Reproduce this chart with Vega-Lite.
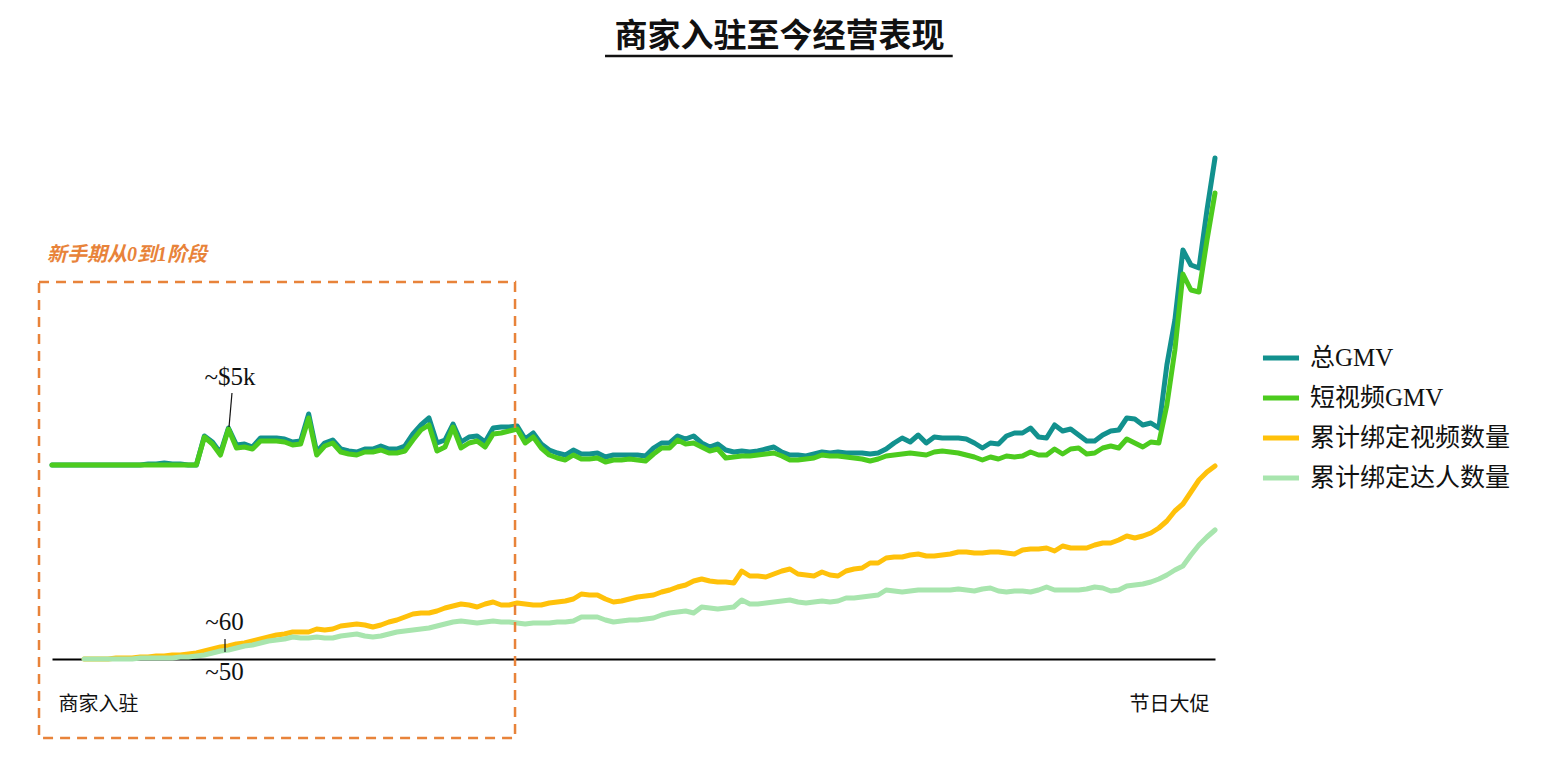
{
  "$schema": "https://vega.github.io/schema/vega-lite/v6.json",
  "width": 1163,
  "height": 519,
  "autosize": {"type": "none"},
  "padding": {"left": 52, "top": 140, "right": 347, "bottom": 101},
  "background": "white",
  "title": {"text": "商家入驻至今经营表现", "fontSize": 33, "fontWeight": "bold", "font": "Noto Sans CJK SC", "color": "#111111", "anchor": "middle", "frame": "group", "dx": 146, "offset": 1},
  "config": {"view": {"stroke": null}, "axis": {"grid": false, "ticks": false}},
  "datasets": {
    "series": [
      {"day":0,"总GMV":194,"短视频GMV":194},
      {"day":1,"总GMV":194,"短视频GMV":194},
      {"day":2,"总GMV":194,"短视频GMV":194},
      {"day":3,"总GMV":194,"短视频GMV":194},
      {"day":4,"总GMV":194,"短视频GMV":194,"累计绑定视频数量":0,"累计绑定达人数量":0},
      {"day":5,"总GMV":194,"短视频GMV":194,"累计绑定视频数量":0,"累计绑定达人数量":0},
      {"day":6,"总GMV":194,"短视频GMV":194,"累计绑定视频数量":0,"累计绑定达人数量":0},
      {"day":7,"总GMV":194,"短视频GMV":194,"累计绑定视频数量":0,"累计绑定达人数量":0},
      {"day":8,"总GMV":194,"短视频GMV":194,"累计绑定视频数量":1,"累计绑定达人数量":0},
      {"day":9,"总GMV":194,"短视频GMV":194,"累计绑定视频数量":1,"累计绑定达人数量":0},
      {"day":10,"总GMV":194,"短视频GMV":194,"累计绑定视频数量":1,"累计绑定达人数量":0},
      {"day":11,"总GMV":194,"短视频GMV":194,"累计绑定视频数量":2,"累计绑定达人数量":1},
      {"day":12,"总GMV":195,"短视频GMV":194,"累计绑定视频数量":2,"累计绑定达人数量":1},
      {"day":13,"总GMV":195,"短视频GMV":194,"累计绑定视频数量":3,"累计绑定达人数量":1},
      {"day":14,"总GMV":196,"短视频GMV":194,"累计绑定视频数量":3,"累计绑定达人数量":1},
      {"day":15,"总GMV":195,"短视频GMV":194,"累计绑定视频数量":4,"累计绑定达人数量":1},
      {"day":16,"总GMV":195,"短视频GMV":194,"累计绑定视频数量":4,"累计绑定达人数量":2},
      {"day":17,"总GMV":194,"短视频GMV":194,"累计绑定视频数量":5,"累计绑定达人数量":2},
      {"day":18,"总GMV":194,"短视频GMV":194,"累计绑定视频数量":6,"累计绑定达人数量":3},
      {"day":19,"总GMV":223,"短视频GMV":222,"累计绑定视频数量":8,"累计绑定达人数量":4},
      {"day":20,"总GMV":217,"短视频GMV":215,"累计绑定视频数量":10,"累计绑定达人数量":6},
      {"day":21,"总GMV":206,"短视频GMV":204,"累计绑定视频数量":12,"累计绑定达人数量":8},
      {"day":22,"总GMV":231,"短视频GMV":230,"累计绑定视频数量":13,"累计绑定达人数量":9},
      {"day":23,"总GMV":214,"短视频GMV":211,"累计绑定视频数量":15,"累计绑定达人数量":11},
      {"day":24,"总GMV":215,"短视频GMV":212,"累计绑定视频数量":16,"累计绑定达人数量":13},
      {"day":25,"总GMV":212,"短视频GMV":210,"累计绑定视频数量":18,"累计绑定达人数量":14},
      {"day":26,"总GMV":221,"短视频GMV":218,"累计绑定视频数量":20,"累计绑定达人数量":16},
      {"day":27,"总GMV":221,"短视频GMV":218,"累计绑定视频数量":22,"累计绑定达人数量":18},
      {"day":28,"总GMV":221,"短视频GMV":218,"累计绑定视频数量":24,"累计绑定达人数量":19},
      {"day":29,"总GMV":220,"短视频GMV":217,"累计绑定视频数量":25,"累计绑定达人数量":20},
      {"day":30,"总GMV":217,"短视频GMV":214,"累计绑定视频数量":27,"累计绑定达人数量":22},
      {"day":31,"总GMV":218,"短视频GMV":215,"累计绑定视频数量":27,"累计绑定达人数量":21},
      {"day":32,"总GMV":245,"短视频GMV":241,"累计绑定视频数量":27,"累计绑定达人数量":21},
      {"day":33,"总GMV":207,"短视频GMV":204,"累计绑定视频数量":30,"累计绑定达人数量":22},
      {"day":34,"总GMV":216,"短视频GMV":213,"累计绑定视频数量":29,"累计绑定达人数量":21},
      {"day":35,"总GMV":219,"短视频GMV":216,"累计绑定视频数量":30,"累计绑定达人数量":21},
      {"day":36,"总GMV":210,"短视频GMV":207,"累计绑定视频数量":33,"累计绑定达人数量":23},
      {"day":37,"总GMV":208,"短视频GMV":205,"累计绑定视频数量":34,"累计绑定达人数量":24},
      {"day":38,"总GMV":207,"短视频GMV":204,"累计绑定视频数量":35,"累计绑定达人数量":25},
      {"day":39,"总GMV":210,"短视频GMV":207,"累计绑定视频数量":34,"累计绑定达人数量":23},
      {"day":40,"总GMV":210,"短视频GMV":207,"累计绑定视频数量":32,"累计绑定达人数量":22},
      {"day":41,"总GMV":213,"短视频GMV":209,"累计绑定视频数量":34,"累计绑定达人数量":23},
      {"day":42,"总GMV":210,"短视频GMV":206,"累计绑定视频数量":37,"累计绑定达人数量":25},
      {"day":43,"总GMV":210,"短视频GMV":206,"累计绑定视频数量":39,"累计绑定达人数量":27},
      {"day":44,"总GMV":213,"短视频GMV":208,"累计绑定视频数量":42,"累计绑定达人数量":28},
      {"day":45,"总GMV":225,"短视频GMV":219,"累计绑定视频数量":45,"累计绑定达人数量":29},
      {"day":46,"总GMV":234,"短视频GMV":229,"累计绑定视频数量":46,"累计绑定达人数量":30},
      {"day":47,"总GMV":241,"短视频GMV":234,"累计绑定视频数量":46,"累计绑定达人数量":31},
      {"day":48,"总GMV":216,"短视频GMV":208,"累计绑定视频数量":48,"累计绑定达人数量":33},
      {"day":49,"总GMV":219,"短视频GMV":212,"累计绑定视频数量":51,"累计绑定达人数量":35},
      {"day":50,"总GMV":235,"短视频GMV":232,"累计绑定视频数量":53,"累计绑定达人数量":37},
      {"day":51,"总GMV":217,"短视频GMV":211,"累计绑定视频数量":55,"累计绑定达人数量":38},
      {"day":52,"总GMV":222,"短视频GMV":216,"累计绑定视频数量":54,"累计绑定达人数量":37},
      {"day":53,"总GMV":223,"短视频GMV":218,"累计绑定视频数量":52,"累计绑定达人数量":36},
      {"day":54,"总GMV":217,"短视频GMV":212,"累计绑定视频数量":55,"累计绑定达人数量":37},
      {"day":55,"总GMV":231,"短视频GMV":225,"累计绑定视频数量":57,"累计绑定达人数量":38},
      {"day":56,"总GMV":232,"短视频GMV":226,"累计绑定视频数量":54,"累计绑定达人数量":37},
      {"day":57,"总GMV":232,"短视频GMV":228,"累计绑定视频数量":54,"累计绑定达人数量":37},
      {"day":58,"总GMV":233,"短视频GMV":230,"累计绑定视频数量":56,"累计绑定达人数量":36},
      {"day":59,"总GMV":220,"短视频GMV":216,"累计绑定视频数量":55,"累计绑定达人数量":35},
      {"day":60,"总GMV":226,"短视频GMV":222,"累计绑定视频数量":54,"累计绑定达人数量":36},
      {"day":61,"总GMV":215,"短视频GMV":211,"累计绑定视频数量":54,"累计绑定达人数量":36},
      {"day":62,"总GMV":209,"短视频GMV":204,"累计绑定视频数量":56,"累计绑定达人数量":36},
      {"day":63,"总GMV":206,"短视频GMV":201,"累计绑定视频数量":57,"累计绑定达人数量":37},
      {"day":64,"总GMV":204,"短视频GMV":199,"累计绑定视频数量":58,"累计绑定达人数量":37},
      {"day":65,"总GMV":209,"短视频GMV":204,"累计绑定视频数量":60,"累计绑定达人数量":38},
      {"day":66,"总GMV":205,"短视频GMV":200,"累计绑定视频数量":65,"累计绑定达人数量":42},
      {"day":67,"总GMV":205,"短视频GMV":200,"累计绑定视频数量":64,"累计绑定达人数量":42},
      {"day":68,"总GMV":206,"短视频GMV":201,"累计绑定视频数量":64,"累计绑定达人数量":42},
      {"day":69,"总GMV":202,"短视频GMV":197,"累计绑定视频数量":60,"累计绑定达人数量":39},
      {"day":70,"总GMV":204,"短视频GMV":199,"累计绑定视频数量":57,"累计绑定达人数量":37},
      {"day":71,"总GMV":204,"短视频GMV":199,"累计绑定视频数量":58,"累计绑定达人数量":38},
      {"day":72,"总GMV":204,"短视频GMV":200,"累计绑定视频数量":60,"累计绑定达人数量":39},
      {"day":73,"总GMV":204,"短视频GMV":199,"累计绑定视频数量":62,"累计绑定达人数量":39},
      {"day":74,"总GMV":203,"短视频GMV":198,"累计绑定视频数量":63,"累计绑定达人数量":40},
      {"day":75,"总GMV":211,"短视频GMV":205,"累计绑定视频数量":64,"累计绑定达人数量":41},
      {"day":76,"总GMV":216,"短视频GMV":211,"累计绑定视频数量":67,"累计绑定达人数量":44},
      {"day":77,"总GMV":216,"短视频GMV":211,"累计绑定视频数量":69,"累计绑定达人数量":46},
      {"day":78,"总GMV":223,"短视频GMV":219,"累计绑定视频数量":72,"累计绑定达人数量":47},
      {"day":79,"总GMV":220,"短视频GMV":215,"累计绑定视频数量":74,"累计绑定达人数量":48},
      {"day":80,"总GMV":223,"短视频GMV":216,"累计绑定视频数量":78,"累计绑定达人数量":46},
      {"day":81,"总GMV":216,"短视频GMV":212,"累计绑定视频数量":80,"累计绑定达人数量":52},
      {"day":82,"总GMV":212,"短视频GMV":208,"累计绑定视频数量":78,"累计绑定达人数量":51},
      {"day":83,"总GMV":215,"短视频GMV":210,"累计绑定视频数量":77,"累计绑定达人数量":50},
      {"day":84,"总GMV":209,"短视频GMV":201,"累计绑定视频数量":77,"累计绑定达人数量":51},
      {"day":85,"总GMV":207,"短视频GMV":202,"累计绑定视频数量":76,"累计绑定达人数量":52},
      {"day":86,"总GMV":208,"短视频GMV":203,"累计绑定视频数量":88,"累计绑定达人数量":59},
      {"day":87,"总GMV":207,"短视频GMV":203,"累计绑定视频数量":83,"累计绑定达人数量":55},
      {"day":88,"总GMV":208,"短视频GMV":204,"累计绑定视频数量":83,"累计绑定达人数量":55},
      {"day":89,"总GMV":210,"短视频GMV":205,"累计绑定视频数量":82,"累计绑定达人数量":56},
      {"day":90,"总GMV":212,"短视频GMV":206,"累计绑定视频数量":85,"累计绑定达人数量":57},
      {"day":91,"总GMV":207,"短视频GMV":203,"累计绑定视频数量":88,"累计绑定达人数量":58},
      {"day":92,"总GMV":204,"短视频GMV":199,"累计绑定视频数量":90,"累计绑定达人数量":59},
      {"day":93,"总GMV":204,"短视频GMV":199,"累计绑定视频数量":85,"累计绑定达人数量":57},
      {"day":94,"总GMV":203,"短视频GMV":200,"累计绑定视频数量":84,"累计绑定达人数量":56},
      {"day":95,"总GMV":205,"短视频GMV":201,"累计绑定视频数量":83,"累计绑定达人数量":57},
      {"day":96,"总GMV":207,"短视频GMV":204,"累计绑定视频数量":87,"累计绑定达人数量":58},
      {"day":97,"总GMV":206,"短视频GMV":203,"累计绑定视频数量":84,"累计绑定达人数量":57},
      {"day":98,"总GMV":207,"短视频GMV":203,"累计绑定视频数量":83,"累计绑定达人数量":58},
      {"day":99,"总GMV":206,"短视频GMV":202,"累计绑定视频数量":88,"累计绑定达人数量":61},
      {"day":100,"总GMV":206,"短视频GMV":201,"累计绑定视频数量":90,"累计绑定达人数量":61},
      {"day":101,"总GMV":206,"短视频GMV":200,"累计绑定视频数量":91,"累计绑定达人数量":62},
      {"day":102,"总GMV":205,"短视频GMV":198,"累计绑定视频数量":96,"累计绑定达人数量":63},
      {"day":103,"总GMV":206,"短视频GMV":200,"累计绑定视频数量":96,"累计绑定达人数量":64},
      {"day":104,"总GMV":210,"短视频GMV":203,"累计绑定视频数量":101,"累计绑定达人数量":69},
      {"day":105,"总GMV":216,"短视频GMV":204,"累计绑定视频数量":102,"累计绑定达人数量":68},
      {"day":106,"总GMV":221,"短视频GMV":205,"累计绑定视频数量":102,"累计绑定达人数量":67},
      {"day":107,"总GMV":217,"短视频GMV":206,"累计绑定视频数量":104,"累计绑定达人数量":68},
      {"day":108,"总GMV":224,"短视频GMV":205,"累计绑定视频数量":105,"累计绑定达人数量":69},
      {"day":109,"总GMV":216,"短视频GMV":204,"累计绑定视频数量":103,"累计绑定达人数量":69},
      {"day":110,"总GMV":222,"短视频GMV":207,"累计绑定视频数量":103,"累计绑定达人数量":69},
      {"day":111,"总GMV":221,"短视频GMV":208,"累计绑定视频数量":104,"累计绑定达人数量":69},
      {"day":112,"总GMV":221,"短视频GMV":207,"累计绑定视频数量":105,"累计绑定达人数量":69},
      {"day":113,"总GMV":221,"短视频GMV":206,"累计绑定视频数量":107,"累计绑定达人数量":70},
      {"day":114,"总GMV":220,"短视频GMV":204,"累计绑定视频数量":107,"累计绑定达人数量":69},
      {"day":115,"总GMV":216,"短视频GMV":202,"累计绑定视频数量":106,"累计绑定达人数量":68},
      {"day":116,"总GMV":211,"短视频GMV":199,"累计绑定视频数量":106,"累计绑定达人数量":70},
      {"day":117,"总GMV":216,"短视频GMV":202,"累计绑定视频数量":107,"累计绑定达人数量":71},
      {"day":118,"总GMV":215,"短视频GMV":200,"累计绑定视频数量":107,"累计绑定达人数量":68},
      {"day":119,"总GMV":223,"短视频GMV":203,"累计绑定视频数量":106,"累计绑定达人数量":67},
      {"day":120,"总GMV":226,"短视频GMV":202,"累计绑定视频数量":105,"累计绑定达人数量":68},
      {"day":121,"总GMV":226,"短视频GMV":203,"累计绑定视频数量":109,"累计绑定达人数量":68},
      {"day":122,"总GMV":231,"短视频GMV":207,"累计绑定视频数量":110,"累计绑定达人数量":67},
      {"day":123,"总GMV":222,"短视频GMV":204,"累计绑定视频数量":110,"累计绑定达人数量":69},
      {"day":124,"总GMV":221,"短视频GMV":204,"累计绑定视频数量":111,"累计绑定达人数量":72},
      {"day":125,"总GMV":234,"短视频GMV":210,"累计绑定视频数量":108,"累计绑定达人数量":69},
      {"day":126,"总GMV":228,"短视频GMV":205,"累计绑定视频数量":113,"累计绑定达人数量":69},
      {"day":127,"总GMV":230,"短视频GMV":210,"累计绑定视频数量":111,"累计绑定达人数量":69},
      {"day":128,"总GMV":224,"短视频GMV":211,"累计绑定视频数量":111,"累计绑定达人数量":69},
      {"day":129,"总GMV":218,"短视频GMV":205,"累计绑定视频数量":111,"累计绑定达人数量":70},
      {"day":130,"总GMV":218,"短视频GMV":206,"累计绑定视频数量":114,"累计绑定达人数量":72},
      {"day":131,"总GMV":224,"短视频GMV":211,"累计绑定视频数量":116,"累计绑定达人数量":71},
      {"day":132,"总GMV":228,"短视频GMV":213,"累计绑定视频数量":116,"累计绑定达人数量":68},
      {"day":133,"总GMV":229,"短视频GMV":211,"累计绑定视频数量":119,"累计绑定达人数量":69},
      {"day":134,"总GMV":241,"短视频GMV":220,"累计绑定视频数量":123,"累计绑定达人数量":73},
      {"day":135,"总GMV":240,"短视频GMV":216,"累计绑定视频数量":121,"累计绑定达人数量":74},
      {"day":136,"总GMV":234,"短视频GMV":212,"累计绑定视频数量":123,"累计绑定达人数量":75},
      {"day":137,"总GMV":236,"短视频GMV":217,"累计绑定视频数量":126,"累计绑定达人数量":77},
      {"day":138,"总GMV":231,"短视频GMV":216,"累计绑定视频数量":131,"累计绑定达人数量":80},
      {"day":139,"总GMV":294,"短视频GMV":254,"累计绑定视频数量":138,"累计绑定达人数量":84},
      {"day":140,"总GMV":339,"短视频GMV":309,"累计绑定视频数量":148,"累计绑定达人数量":89},
      {"day":141,"总GMV":409,"短视频GMV":385,"累计绑定视频数量":155,"累计绑定达人数量":93},
      {"day":142,"总GMV":394,"短视频GMV":369,"累计绑定视频数量":167,"累计绑定达人数量":104},
      {"day":143,"总GMV":391,"短视频GMV":367,"累计绑定视频数量":179,"累计绑定达人数量":114},
      {"day":144,"总GMV":449,"短视频GMV":419,"累计绑定视频数量":187,"累计绑定达人数量":122},
      {"day":145,"总GMV":501,"短视频GMV":466,"累计绑定视频数量":193,"累计绑定达人数量":129}
    ],
    "box": [{"d1": -1.62, "d2": 57.73, "v1": 377, "v2": -79}],
    "notes": [
      {"d": 22.2, "v": 282, "label": "~$5k"},
      {"d": 21.5, "v": 37, "label": "~60"},
      {"d": 21.5, "v": -13, "label": "~50"}
    ],
    "phase": [{"d": -0.62, "v": 404, "label": "新手期从0到1阶段"}],
    "leaders": [
      {"d": 22.44, "d2": 22.07, "v": 266, "v2": 232},
      {"d": 21.57, "d2": 21.57, "v": 20, "v2": 7}
    ],
    "underline": [{"d": 68.95, "d2": 112.3, "v": 603}]
  },
  "layer": [
    {
      "data": {"name": "series"},
      "transform": [{"fold": ["总GMV", "短视频GMV", "累计绑定视频数量", "累计绑定达人数量"], "as": ["series", "value"]}],
      "mark": {"type": "line", "strokeWidth": 5, "strokeCap": "round", "strokeJoin": "round"},
      "encoding": {
        "x": {"field": "day", "type": "quantitative", "scale": {"domain": [0, 145], "nice": false, "zero": false},
          "axis": {"values": [0, 145], "labelExpr": "datum.value == 0 ? '商家入驻' : '节日大促'", "labelFlush": true, "labelFlushOffset": -6, "labelBound": false, "labelOverlap": false, "title": null, "domainColor": "#000000", "domainWidth": 2, "labelFont": "Liberation Serif, Noto Sans CJK SC", "labelFontSize": 20, "labelColor": "#111111", "labelPadding": 35}},
        "y": {"field": "value", "type": "quantitative", "scale": {"domain": [0, 519], "nice": false, "zero": false}, "axis": null},
        "color": {"field": "series", "type": "nominal", "sort": ["总GMV", "短视频GMV", "累计绑定视频数量", "累计绑定达人数量"],
          "scale": {"domain": ["总GMV", "短视频GMV", "累计绑定视频数量", "累计绑定达人数量"], "range": ["#12918E", "#4CCB1E", "#FFC10A", "#A8E5AE"]},
          "legend": {"title": null, "orient": "none", "legendX": 1208, "legendY": 197, "symbolType": "stroke", "symbolSize": 1300, "symbolStrokeWidth": 5, "labelFont": "Liberation Serif, Noto Sans CJK SC", "labelFontSize": 25, "labelLimit": 400, "labelColor": "#111111", "labelOffset": 8, "rowPadding": 6, "padding": 0}}
      }
    },
    {
      "data": {"name": "box"},
      "mark": {"type": "rect", "fill": null, "stroke": "#E8833A", "strokeWidth": 2.5, "strokeDash": [10, 7]},
      "encoding": {
        "x": {"field": "d1", "type": "quantitative"},
        "x2": {"field": "d2"},
        "y": {"field": "v1", "type": "quantitative", "axis": null},
        "y2": {"field": "v2"}
      }
    },
    {
      "data": {"name": "notes"},
      "mark": {"type": "text", "font": "Liberation Serif", "fontSize": 25, "align": "center", "baseline": "middle", "color": "#111111"},
      "encoding": {
        "x": {"field": "d", "type": "quantitative"},
        "y": {"field": "v", "type": "quantitative", "axis": null},
        "text": {"field": "label"}
      }
    },
    {
      "data": {"name": "phase"},
      "mark": {"type": "text", "font": "Liberation Serif, Noto Sans CJK SC", "fontSize": 20, "fontStyle": "italic", "fontWeight": "bold", "align": "left", "baseline": "middle", "color": "#E8833A"},
      "encoding": {
        "x": {"field": "d", "type": "quantitative"},
        "y": {"field": "v", "type": "quantitative", "axis": null},
        "text": {"field": "label"}
      }
    },
    {
      "data": {"name": "leaders"},
      "mark": {"type": "rule", "color": "#111111", "strokeWidth": 1.2},
      "encoding": {
        "x": {"field": "d", "type": "quantitative"},
        "x2": {"field": "d2"},
        "y": {"field": "v", "type": "quantitative", "axis": null},
        "y2": {"field": "v2"}
      }
    },
    {
      "data": {"name": "underline"},
      "mark": {"type": "rule", "color": "#111111", "strokeWidth": 2.5},
      "encoding": {
        "x": {"field": "d", "type": "quantitative"},
        "x2": {"field": "d2"},
        "y": {"field": "v", "type": "quantitative", "axis": null}
      }
    }
  ]
}
